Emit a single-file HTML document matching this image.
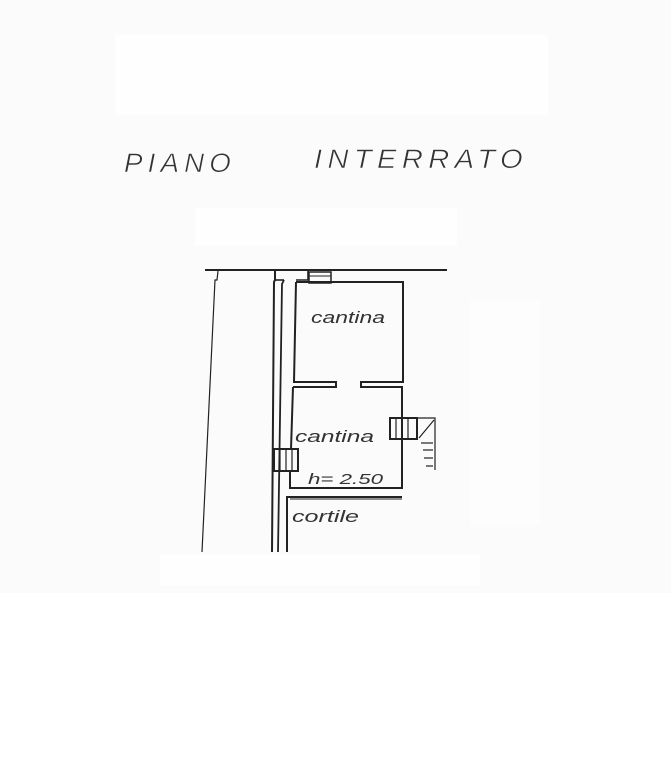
<!DOCTYPE html>
<html><head><meta charset="utf-8"><style>
html,body{margin:0;padding:0;background:#fff;}
svg{display:block}
</style></head><body>
<svg width="671" height="768" viewBox="0 0 671 768" xmlns="http://www.w3.org/2000/svg">
<rect x="0" y="0" width="671" height="593" fill="#fbfbfb"/>
<rect x="115" y="35" width="433" height="80" fill="#fefefe"/>
<rect x="195" y="208" width="262" height="38" fill="#fefefe"/>
<rect x="470" y="300" width="70" height="225" fill="#fdfdfd"/>
<rect x="160" y="555" width="320" height="30" fill="#fefefe"/>
<g font-family="'Liberation Sans', sans-serif" font-style="italic" fill="#333">
<text x="124" y="172" font-size="27" letter-spacing="5" textLength="112" lengthAdjust="spacingAndGlyphs" stroke="#fbfbfb" stroke-width="0.6">PIANO</text>
<text x="314" y="168" font-size="27" letter-spacing="5" textLength="214" lengthAdjust="spacingAndGlyphs" stroke="#fbfbfb" stroke-width="0.6">INTERRATO</text>
<text x="311" y="323" font-size="17" textLength="74" lengthAdjust="spacingAndGlyphs">cantina</text>
<text x="295" y="442" font-size="17" textLength="79" lengthAdjust="spacingAndGlyphs">cantina</text>
<text x="308" y="484" font-size="15" textLength="75" lengthAdjust="spacingAndGlyphs">h=  2.50</text>
<text x="292" y="522" font-size="17" textLength="67" lengthAdjust="spacingAndGlyphs">cortile</text>
</g>
<g stroke="#222" fill="none" stroke-width="1.6">
<line x1="205" y1="270" x2="447" y2="270" stroke-width="2"/>
<polyline points="218,271 217,280 215,280 202,552" stroke-width="1.2"/>
<polyline points="275,271 275,280 274,282 272,552" stroke-width="2"/>
<polyline points="308,271 308,280 296,280" />
<polyline points="284,280 282,284 278,552" stroke-width="1.8"/>
<line x1="275" y1="280" x2="284" y2="280"/>
<rect x="309" y="272" width="22" height="11" stroke-width="1.5"/>
<line x1="309" y1="276" x2="331" y2="276" stroke-width="1"/>
<polyline points="296,282 403,282 403,382 361,382 361,387 391,387" stroke-width="2"/>
<polyline points="296,282 294,382 336,382 336,387 293,387" stroke-width="2"/>
<polyline points="293,387 291,449" stroke-width="2"/>
<polyline points="391,387 402,387 402,488 290,488 290,471" stroke-width="2"/>
<rect x="390" y="418" width="27" height="21" stroke-width="2"/>
<line x1="396" y1="418" x2="396" y2="439" stroke-width="1.2"/>
<line x1="402" y1="418" x2="402" y2="439" stroke-width="1.2"/>
<line x1="408" y1="418" x2="408" y2="439" stroke-width="1.2"/>
<polyline points="417,418 435,418 435,470" stroke-width="1.2"/>
<line x1="434" y1="420" x2="419" y2="438" stroke-width="1.2"/>
<line x1="421" y1="443" x2="433" y2="443" stroke-width="1.2"/>
<line x1="423" y1="450" x2="433" y2="450" stroke-width="1.2"/>
<line x1="424" y1="458" x2="433" y2="458" stroke-width="1.2"/>
<line x1="426" y1="466" x2="433" y2="466" stroke-width="1.2"/>
<rect x="274" y="449" width="24" height="22" stroke-width="2"/>
<line x1="280" y1="449" x2="280" y2="471" stroke-width="1.2"/>
<line x1="286" y1="449" x2="286" y2="471" stroke-width="1.2"/>
<line x1="292" y1="449" x2="292" y2="471" stroke-width="1.2"/>
<polyline points="402,497 287,497 287,552" stroke-width="2"/>
<line x1="290" y1="499" x2="402" y2="499" stroke-width="1"/>
</g>
</svg>
</body></html>
